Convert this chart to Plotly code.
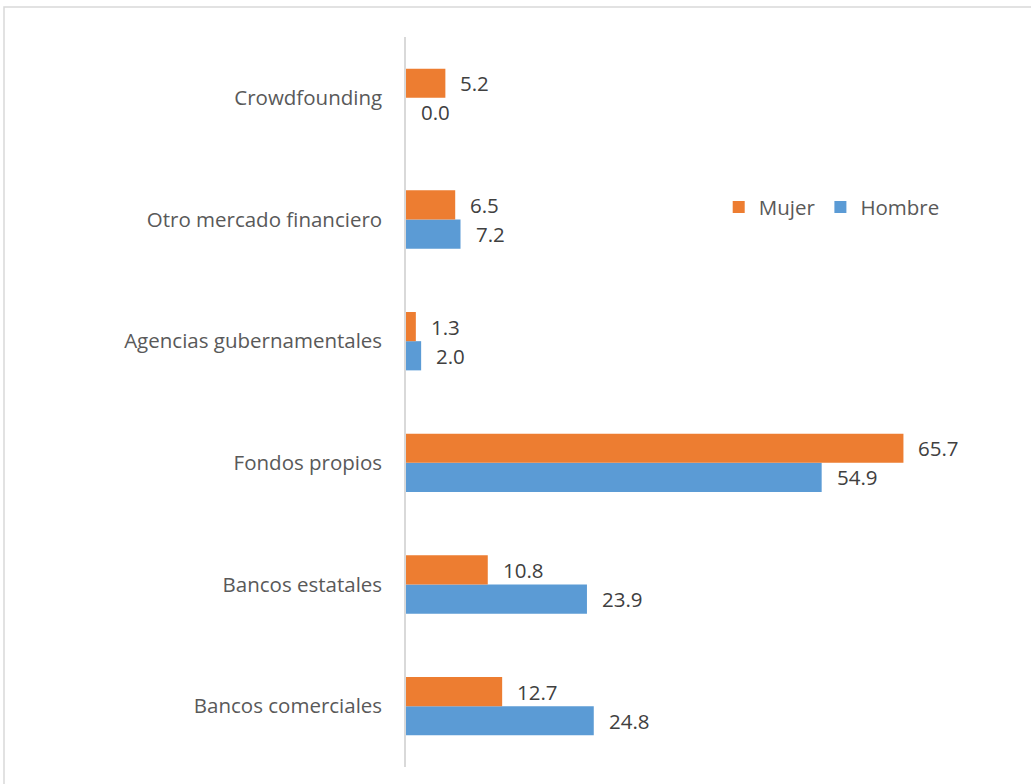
import plotly.graph_objects as go

categories = [
    "Bancos comerciales",
    "Bancos estatales",
    "Fondos propios",
    "Agencias gubernamentales",
    "Otro mercado financiero",
    "Crowdfounding",
]
hombre = [24.8, 23.9, 54.9, 2.0, 7.2, 0.0]
mujer = [12.7, 10.8, 65.7, 1.3, 6.5, 5.2]

ORANGE = "#ED7D31"
BLUE = "#5B9BD5"
FONT = "Open Sans"
TEXT = "#404040"
SIZE = 20.5

fig = go.Figure()
fig.add_trace(go.Bar(y=categories, x=hombre, name="Hombre", orientation="h",
                     marker=dict(color=BLUE, line=dict(width=0)), legendrank=2,
                     hoverinfo="x+name"))
fig.add_trace(go.Bar(y=categories, x=mujer, name="Mujer", orientation="h",
                     marker=dict(color=ORANGE, line=dict(width=0)), legendrank=1,
                     hoverinfo="x+name"))

# value labels just past the end of each bar
annotations = []
for vals, off in ((hombre, -0.12), (mujer, 0.12)):
    for i, v in enumerate(vals):
        annotations.append(dict(
            x=v, y=i + off, xref="x", yref="y",
            text=f"{v:.1f}", showarrow=False, xanchor="left", yanchor="middle",
            xshift=13, font=dict(family=FONT, size=SIZE, color=TEXT),
        ))

fig.update_layout(
    width=1031, height=784,
    margin=dict(l=406, r=95, t=37, b=17),
    paper_bgcolor="white", plot_bgcolor="white",
    barmode="group", bargap=0.52, bargroupgap=0,
    font=dict(family=FONT, size=SIZE, color="#595959"),
    xaxis=dict(range=[0, 70], showgrid=False, zeroline=False, showline=False,
               showticklabels=False, ticks=""),
    yaxis=dict(categoryorder="array", categoryarray=categories,
               showline=True, linecolor="#d9d9d9", linewidth=1.5,
               showgrid=False, ticks="outside", ticklen=18, tickcolor="rgba(0,0,0,0)",
               tickfont=dict(family=FONT, size=SIZE, color="#595959")),
    legend=dict(orientation="h", x=0.59, y=0.767, xanchor="left", yanchor="middle",
                font=dict(family=FONT, size=SIZE, color="#595959"),
                bgcolor="rgba(0,0,0,0)", itemwidth=30),
    annotations=annotations,
    shapes=[dict(type="rect", xref="paper", yref="paper",
                 x0=(4 - 406) / 530, x1=(1040 - 406) / 530,
                 y0=(767 - 800) / 730, y1=(767 - 7) / 730,
                 line=dict(color="#d9d9d9", width=1.5), layer="below")],
)

fig.write_html("out.html")
